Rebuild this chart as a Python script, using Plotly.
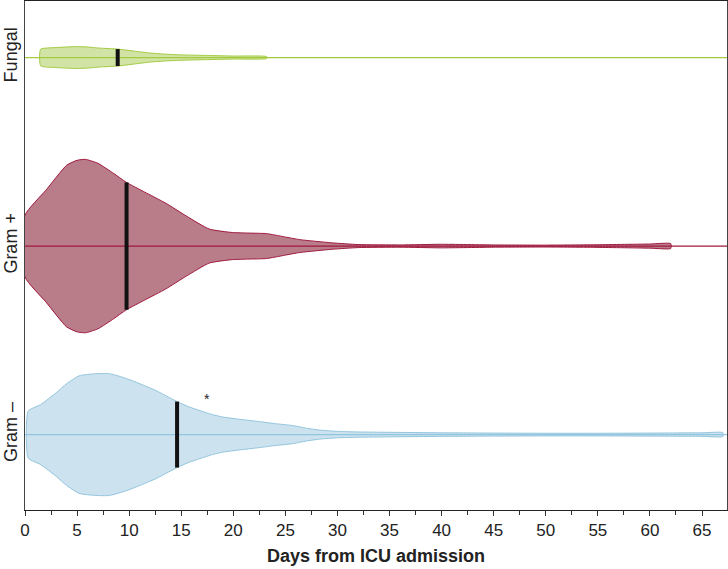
import plotly.graph_objects as go
import numpy as np

categories = ["Gram –", "Gram +", "Fungal"]
positions = [0, 1, 2]

# Violin profiles: days (x) and half-width of the density outline (category units)
gneg_days = [0.3, 1.5, 3, 4, 5.2, 6.8, 8.1, 9.2, 10.3, 11.5, 12.6, 13.6, 14.6, 15.7, 16.8, 18, 19,
             20.5, 22.5, 24, 25.7, 27, 28.3, 30, 32, 35, 40, 45, 50, 55, 60, 65, 67]
gneg_half = [0.124, 0.159, 0.222, 0.270, 0.312, 0.323, 0.323, 0.307, 0.286, 0.259, 0.233, 0.204,
             0.175, 0.148, 0.127, 0.106, 0.093, 0.082, 0.069, 0.058, 0.048, 0.034, 0.024, 0.017,
             0.014, 0.012, 0.0095, 0.008, 0.007, 0.007, 0.008, 0.0095, 0.0105]

gpos_days = [0, 2, 4, 5, 5.8, 7, 8.5, 9.7, 11.5, 13.5, 15.5, 17.7, 19.9, 21.5, 23.2, 24.8, 26.4,
             29.5, 32, 36, 40, 45, 50, 55, 60, 62]
gpos_half = [0.164, 0.296, 0.429, 0.455, 0.460, 0.439, 0.386, 0.339, 0.286, 0.228, 0.159, 0.090,
             0.072, 0.069, 0.066, 0.050, 0.034, 0.017, 0.008, 0.006, 0.0095, 0.006, 0.005, 0.007,
             0.011, 0.013]

fung_days = [1.5, 3, 4.9, 6, 7.2, 8.9, 10.5, 12, 13.5, 15.1, 17.5, 20, 23.2]
fung_half = [0.044, 0.053, 0.058, 0.056, 0.050, 0.045, 0.034, 0.024, 0.018, 0.014, 0.011, 0.008, 0.005]

medians = [14.6, 9.75, 8.9]

fills = ["#cde2ef", "#b97d8a", "#d2e3a6"]
lines = ["#92c5de", "#a0193f", "#a2cb40"]

x_max = 67.4
x_ticks = list(range(0, 70, 5))

profiles = [(gneg_days, gneg_half), (gpos_days, gpos_half), (fung_days, fung_half)]

fig = go.Figure()
for i, (days, half) in enumerate(profiles):
    c = positions[i]
    d = np.array(days, dtype=float)
    h = np.array(half, dtype=float)
    xs = np.concatenate([d, d[::-1], d[:1]])
    ys = np.concatenate([c + h, (c - h)[::-1], [c + h[0]]])
    fig.add_trace(go.Scatter(x=xs, y=ys, mode="lines", fill="toself", fillcolor=fills[i],
                             line=dict(color=lines[i], width=1, shape="spline", smoothing=0.5),
                             hoverinfo="skip", showlegend=False))
    fig.add_trace(go.Scatter(x=[0, x_max], y=[c, c], mode="lines",
                             line=dict(color=lines[i], width=1.2), hoverinfo="skip", showlegend=False))
    m = medians[i]
    wm = float(np.interp(m, d, h))
    fig.add_trace(go.Scatter(x=[m, m], y=[c - wm, c + wm], mode="lines",
                             line=dict(color="#111111", width=4), hoverinfo="skip", showlegend=False))

fig.add_annotation(x=17.5, y=0.19, text="*", showarrow=False,
                   font=dict(size=14, color="#222", family="Liberation Sans, Arial"))

fig.update_layout(
    width=728, height=569,
    margin=dict(l=25, r=1, t=1, b=59),
    plot_bgcolor="white", paper_bgcolor="white",
    font=dict(family="Liberation Sans, Arial, sans-serif", color="#222"),
    xaxis=dict(range=[0, x_max], tickvals=x_ticks, ticks="outside", ticklen=5, tickcolor="#333",
               minor=dict(dtick=2.5, ticks="outside", ticklen=4, tickcolor="#333"),
               showline=True, linecolor="#222", linewidth=1, mirror=True, showgrid=False, zeroline=False,
               automargin=False,
               tickfont=dict(family="Liberation Sans, Arial", size=17),
               title=dict(text="<b>Days from ICU admission</b>", standoff=9,
                          font=dict(size=18, family="Liberation Sans, Arial"))),
    yaxis=dict(range=[-0.40, 2.30], tickvals=positions, ticktext=categories, tickangle=-90,
               showline=True, linecolor="#444", linewidth=1, mirror=True, showgrid=False, zeroline=False,
               automargin=False, ticks="", tickfont=dict(size=18)),
)

fig.write_html("out.html", config={"displayModeBar": False},
               post_script="document.body.style.margin='0px';")
